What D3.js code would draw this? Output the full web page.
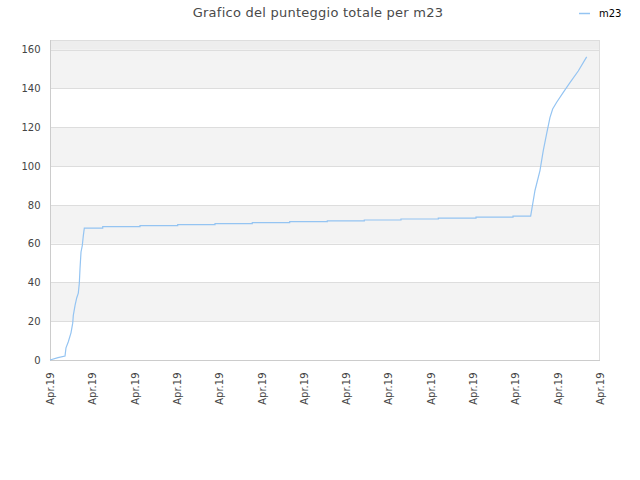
<!DOCTYPE html>
<html>
<head>
<meta charset="utf-8">
<script src="https://cdn.jsdelivr.net/npm/d3@7"></script>
<style>
  body { margin: 0; background: #fff; }
  svg { display: block; }
  text { font-family: "DejaVu Sans", sans-serif; }
</style>
</head>
<body>
<svg id="chart" width="640" height="480"></svg>
<script>
// ---- data ----
const title = "Grafico del punteggio totale per m23";
const seriesName = "m23";
// x position in "tick units" (0..13), all ticks labelled Apr.19
const xTickLabels = ["Apr.19","Apr.19","Apr.19","Apr.19","Apr.19","Apr.19","Apr.19",
                     "Apr.19","Apr.19","Apr.19","Apr.19","Apr.19","Apr.19","Apr.19"];
const yTicks = [0, 20, 40, 60, 80, 100, 120, 140, 160];
const xs = [0, 0.189, 0.355, 0.378, 0.433, 0.496, 0.537, 0.551, 0.591, 0.631, 0.669, 0.693, 0.709, 0.733, 0.763, 0.787, 0.811,
            1.246, 1.246, 2.127, 2.127, 3.018, 3.018, 3.900, 3.900, 4.781, 4.781, 5.665, 5.665,
            6.554, 6.554, 7.429, 7.429, 8.296, 8.296, 9.178, 9.178, 10.069, 10.069, 10.944, 10.944, 11.361,
            11.463, 11.581, 11.659, 11.739, 11.817, 11.881, 11.976, 12.132, 12.290, 12.486, 12.685];
const values = [0, 1.2, 2.0, 6.3, 9.4, 14, 19, 23, 28, 32, 34.5, 39.6, 47, 55.7, 59, 64, 68.0,
                68.0, 68.8, 68.8, 69.3, 69.3, 69.8, 69.8, 70.3, 70.3, 70.8, 70.8, 71.3,
                71.3, 71.7, 71.7, 72.2, 72.2, 72.7, 72.7, 73.2, 73.2, 73.7, 73.7, 74.2, 74.2,
                87.4, 97.7, 108, 116.7, 125, 129.4, 132.9, 138, 143, 149, 156.3];

// ---- layout ----
const svg = d3.select("#chart");
const pLeft = 50, pRight = 600, pTop = 40, pBottom = 360;

const x = d3.scaleLinear().domain([0, xTickLabels.length - 1]).range([pLeft, pRight]);
const y = d3.scaleLinear().domain([0, 165]).range([pBottom, pTop]);

// bands
const bandEdges = yTicks.concat([165]);
for (let i = 0; i < bandEdges.length - 1; i++) {
  let fill;
  if (i === bandEdges.length - 2) fill = "#ededed";
  else fill = (i % 2 === 1) ? "#f3f3f3" : "#ffffff";
  svg.append("rect")
    .attr("x", pLeft).attr("width", pRight - pLeft)
    .attr("y", y(bandEdges[i + 1])).attr("height", y(bandEdges[i]) - y(bandEdges[i + 1]))
    .attr("fill", fill);
}

// grid lines
svg.append("g").selectAll("line").data(yTicks.slice(1)).join("line")
  .attr("x1", pLeft).attr("x2", pRight)
  .attr("y1", d => Math.round(y(d)) + 0.5).attr("y2", d => Math.round(y(d)) + 0.5)
  .attr("stroke", "#dddddd").attr("stroke-width", 1);

// frame
svg.append("line").attr("x1", pLeft).attr("x2", pRight).attr("y1", pTop + 0.5).attr("y2", pTop + 0.5)
  .attr("stroke", "#dddddd");
svg.append("line").attr("x1", pRight - 0.5).attr("x2", pRight - 0.5).attr("y1", pTop).attr("y2", pBottom)
  .attr("stroke", "#dddddd");

// y axis
const yAxis = d3.axisLeft(y).tickValues(yTicks).tickSize(0).tickPadding(10);
const gy = svg.append("g").attr("transform", `translate(${pLeft + 0.5},0)`).call(yAxis);
gy.select(".domain").attr("stroke", "#cccccc").attr("d", `M0,${pTop}V${pBottom}`);
gy.selectAll("text").attr("font-size", 10).attr("fill", "#444").attr("font-family", "DejaVu Sans, sans-serif");

// x axis
const xAxis = d3.axisBottom(x).tickValues(d3.range(xTickLabels.length))
  .tickFormat((d, i) => xTickLabels[i]).tickSize(0).tickPadding(0);
const gx = svg.append("g").attr("transform", `translate(0,${pBottom + 0.5})`).call(xAxis);
gx.select(".domain").attr("stroke", "#cccccc").attr("d", `M${pLeft},0H${pRight}`);
gx.selectAll("text")
  .attr("font-size", 10).attr("fill", "#444").attr("font-family", "DejaVu Sans, sans-serif")
  .attr("text-anchor", "end")
  .attr("transform", "translate(3.5,12) rotate(-90)")
  .attr("dy", "0").attr("y", 0).attr("x", 0);

// line
const pts = xs.map((d, i) => [d, values[i]]);
const line = d3.line().x(d => x(d[0])).y(d => y(d[1]));
svg.append("path").datum(pts)
  .attr("d", line).attr("fill", "none")
  .attr("stroke", "#94c4f2").attr("stroke-width", 1.2);

// title
svg.append("text").attr("x", 318).attr("y", 17)
  .attr("text-anchor", "middle").attr("font-size", 13).attr("fill", "#4a4a4a")
  .attr("letter-spacing", 0.25)
  .text(title);

// legend
svg.append("line").attr("x1", 579).attr("x2", 590).attr("y1", 13.5).attr("y2", 13.5)
  .attr("stroke", "#94c4f2").attr("stroke-width", 1.5);
svg.append("text").attr("x", 599).attr("y", 17)
  .attr("font-size", 10).attr("fill", "#000").text(seriesName);
</script>
</body>
</html>
